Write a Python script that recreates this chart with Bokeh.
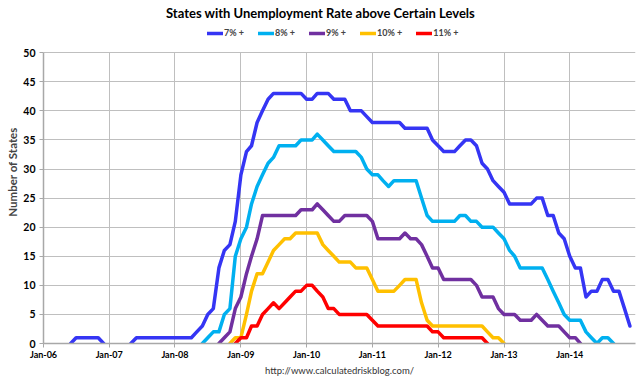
import numpy as np
import pandas as pd
from bokeh.plotting import figure
from bokeh.models import (FixedTicker, DatetimeTickFormatter, Legend, LegendItem,
                          Title, Label, Range1d, ColumnDataSource)
from bokeh.embed import file_html
from bokeh.resources import INLINE

# ---------------- data ----------------
months = pd.date_range("2006-01-01", periods=108, freq="MS")
tick_years = list(range(2006, 2015))
y_ticks = list(range(0, 51, 5))
y_max = 50

states_7 = ([0] * 6 + [1] * 5 + [0] * 6 + [1] * 11 +
            [2, 3, 5, 6, 13, 16, 17, 21, 29, 33, 34, 38, 40, 42] + [43] * 6 +
            [42, 42, 43, 43, 43, 42, 42, 42, 40, 40, 40, 39] + [38] * 6 + [37] * 5 +
            [35, 34, 33, 33, 33, 34, 35, 35, 34, 31, 30, 28, 27, 26, 24, 24, 24, 24, 24,
             25, 25, 22, 22, 19, 18, 15, 13, 13, 8, 9, 9, 11, 11, 9, 9, 6, 3])
states_8 = ([0] * 30 + [1, 2, 2, 5, 6, 15, 18, 20, 24, 27, 29, 31, 32] + [34] * 4 +
            [35] * 3 + [36, 35, 34] + [33] * 5 + [32, 30, 29, 29, 28, 27] + [28] * 5 +
            [25, 22, 21] + [21] * 4 + [22, 22, 21, 21, 20, 20, 20, 19, 18, 16, 15] +
            [13] * 5 + [11, 9, 7, 5, 4, 4, 4, 2, 1, 0, 1, 1] + [0] * 4)
states_9 = ([0] * 33 + [1, 2, 6, 8, 12, 15, 18] + [22] * 7 + [23] * 3 +
            [24, 23, 22, 21, 21] + [22] * 5 + [21] + [18] * 5 + [19, 18, 18, 17, 15, 13, 13] +
            [11] * 6 + [10, 8, 8, 8, 6, 5, 5, 5, 4, 4, 4, 5, 4, 3, 3, 3, 2, 1, 1] + [0] * 10)
states_10 = ([0] * 35 + [1, 1, 5, 9, 12, 12, 14, 16, 17, 18, 18, 19] + [19] * 4 +
             [17, 16, 15, 14, 14, 14, 13, 13, 13, 11, 9, 9, 9, 9, 10, 11, 11, 11, 7, 4, 3] +
             [3] * 9 + [2, 1, 1] + [0] * 24)
states_11 = ([0] * 36 + [1, 1, 3, 3, 5, 6, 7, 6, 7, 8, 9, 9, 10, 10, 9, 8, 6, 6] +
             [5] * 6 + [4] + [3] * 10 + [2, 2] + [1] * 8 + [0] * 27)

series = [states_7, states_8, states_9, states_10, states_11]
series_names = ["7% +", "8% +", "9% +", "10% +", "11% +"]
colors = ["#3535F4", "#00B0F0", "#7030A0", "#FFC000", "#FF0000"]

title_text = "States with Unemployment Rate above Certain Levels"
y_label = "Number of States"
footer_text = "http://www.calculatedriskblog.com/"


def visible(vals):
    """Hide runs of zero that sit on the axis (only the step down to 0 is drawn)."""
    out = []
    n = len(vals)
    for i, v in enumerate(vals):
        if v == 0:
            prev0 = i == 0 or vals[i - 1] == 0
            next0 = i == n - 1 or vals[i + 1] == 0
            if prev0 and next0:
                out.append(np.nan)
                continue
        out.append(float(v))
    return out


FONT = "Lato"
GRID = "#BFBFBF"
FRAME_H = 343  # frame spans from the top of the canvas to the x-axis

x0 = pd.Timestamp(f"{tick_years[0]}-01-01")
x1 = pd.Timestamp(f"{tick_years[-1] + 1}-01-01")

p = figure(width=638, height=378, x_axis_type="datetime", title=None,
           output_backend="svg", toolbar_location=None,
           x_range=Range1d(x0, x1),
           # the frame reaches up to the top so the title/legend can live inside it
           y_range=Range1d(0, y_max * FRAME_H / 290.8),
           min_border_left=43, min_border_right=3,
           min_border_top=0, min_border_bottom=35)

p.outline_line_color = None
p.background_fill_color = "white"

renderers = []
for vals, col in zip(series, colors):
    src = ColumnDataSource(dict(x=months, y=visible(vals)))
    r = p.line("x", "y", source=src, line_color=col, line_width=3.5,
               line_join="round", line_cap="round")
    renderers.append(r)

# axes
year_ticks = [pd.Timestamp(f"{y}-01-01").value / 1e6 for y in tick_years]
p.xaxis.ticker = FixedTicker(ticks=year_ticks)
fmt = "%b-%y"
p.xaxis.formatter = DatetimeTickFormatter(years=fmt, months=fmt, days=fmt, hours=fmt,
                                          minutes=fmt, seconds=fmt, milliseconds=fmt,
                                          microseconds=fmt, hourmin=fmt, minsec=fmt)
p.yaxis.ticker = FixedTicker(ticks=y_ticks)
p.yaxis.bounds = (0, y_max)
for ax in (p.xaxis, p.yaxis):
    ax.axis_line_color = "#A8A8A8"
    ax.axis_line_width = 1.5
    ax.major_tick_line_color = "#A8A8A8"
    ax.major_tick_out = 4
    ax.major_tick_in = 0
    ax.minor_tick_line_color = None
    ax.major_label_text_font = FONT
    ax.major_label_text_font_style = "bold"
    ax.major_label_text_color = "#000000"
p.xaxis.major_label_text_font_size = "9px"
p.xaxis.major_label_standoff = 1
p.yaxis.major_label_text_font_size = "10.5px"
p.yaxis.major_label_standoff = 4
p.yaxis.axis_label = y_label
p.yaxis.axis_label_text_font = FONT
p.yaxis.axis_label_text_font_style = "bold"
p.yaxis.axis_label_text_font_size = "11.5px"
p.yaxis.axis_label_standoff = 1

# grid: vertical lines every January incl. the right edge, limited to 0..50
p.xgrid.ticker = FixedTicker(ticks=year_ticks + [x1.value / 1e6])
p.xgrid.cross_bounds = (0, y_max)
p.xgrid.grid_line_color = GRID
p.ygrid.grid_line_color = GRID

# legend and title inside the (extended) frame, in screen units from its bottom-left
items = [LegendItem(label=n, renderers=[r]) for n, r in zip(series_names, renderers)]
legend = Legend(items=items, orientation="horizontal", location=(164, FRAME_H - 38),
                glyph_width=16, glyph_height=10, label_height=10, label_standoff=1,
                spacing=14, padding=0, margin=0, border_line_color=None,
                background_fill_alpha=0, label_text_font=FONT,
                label_text_font_style="bold", label_text_font_size="9px")
p.add_layout(legend)

p.add_layout(Label(x=277, y=FRAME_H - 12, x_units="screen", y_units="screen",
                   text=title_text, text_align="center", text_baseline="middle",
                   text_font=FONT, text_font_style="bold", text_font_size="13px",
                   text_color="#000000"))

p.add_layout(Title(text=footer_text, align="center", standoff=0,
                   text_font=FONT, text_font_style="normal", text_font_size="9.5px",
                   text_color="#333333"), "below")

open("out.html", "w").write(file_html(p, INLINE))
